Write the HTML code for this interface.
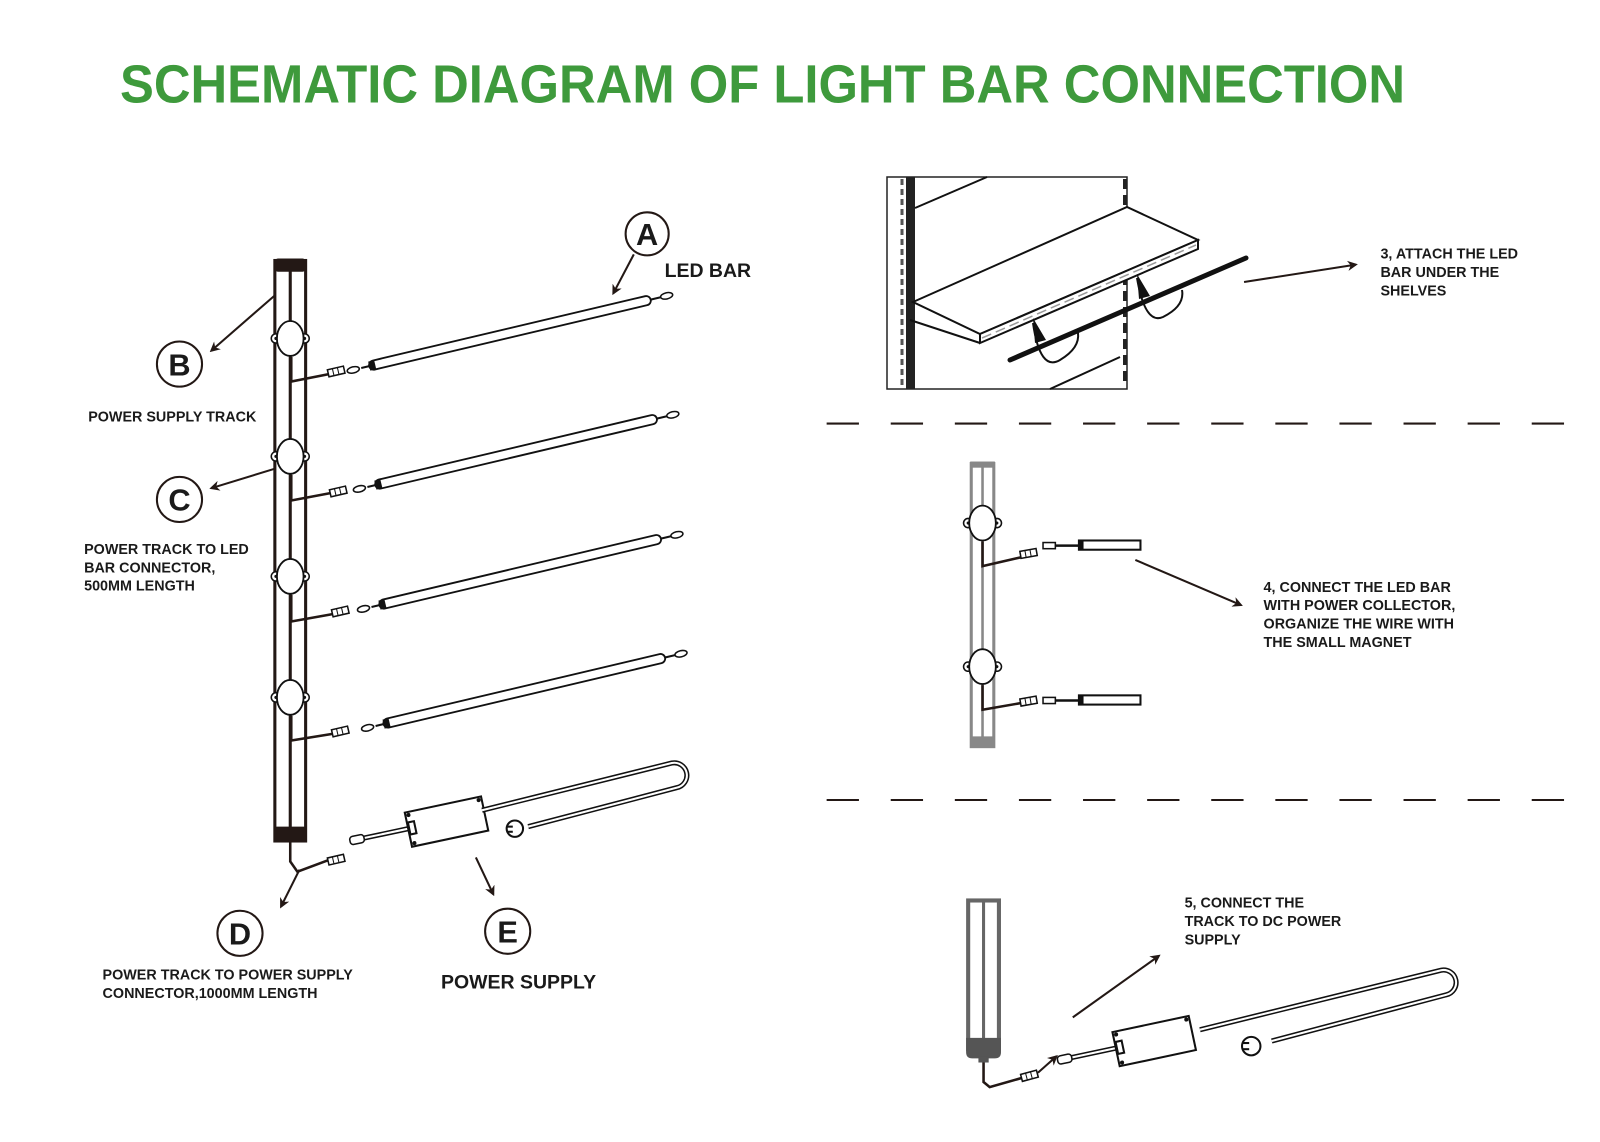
<!DOCTYPE html>
<html><head><meta charset="utf-8"><style>
html,body{margin:0;padding:0;background:#fff;}
svg{display:block;}
text{font-family:"Liberation Sans",sans-serif;font-weight:bold;fill:#1a1a1a;}
</style></head><body>
<svg width="1600" height="1142" viewBox="0 0 1600 1142" xmlns="http://www.w3.org/2000/svg">
<defs>
<marker id="ah" markerWidth="10" markerHeight="10" refX="8" refY="5" orient="auto" markerUnits="userSpaceOnUse" viewBox="0 0 10 10"><path d="M0,0 L10,5 L0,10 L3,5 z" fill="#231815"/></marker>
<g id="mag"><circle cx="-14" cy="0" r="4.5" fill="#fff" stroke="#111" stroke-width="1.5"/><circle cx="14" cy="0" r="4.5" fill="#fff" stroke="#111" stroke-width="1.5"/><circle cx="-14" cy="0" r="1.5" fill="#111"/><circle cx="14" cy="0" r="1.5" fill="#111"/><ellipse cx="0" cy="0" rx="13" ry="17" fill="#fff" stroke="#111" stroke-width="1.8"/></g>
<g id="bar">
<rect x="0" y="-4.5" width="282" height="9" rx="4.5" fill="#fff" stroke="#111" stroke-width="1.8"/>
<rect x="0" y="-4.5" width="6" height="9" fill="#111"/>
<line x1="282" y1="0" x2="292" y2="0" stroke="#111" stroke-width="2"/>
<ellipse cx="298" cy="0" rx="6" ry="3" fill="#fff" stroke="#111" stroke-width="1.5"/>
<line x1="0" y1="0" x2="-8" y2="0" stroke="#111" stroke-width="2"/>
<ellipse cx="-16" cy="0" rx="6" ry="3" fill="#fff" stroke="#111" stroke-width="1.5"/>
</g>
<g id="plug"><rect x="0" y="-3.5" width="16" height="7" fill="#fff" stroke="#111" stroke-width="1.5"/><line x1="5" y1="-3.5" x2="5" y2="3.5" stroke="#111"/><line x1="10" y1="-3.5" x2="10" y2="3.5" stroke="#111"/></g>
<g id="psu">
<line x1="-48" y1="0" x2="0" y2="0" stroke="#111" stroke-width="5"/><line x1="-48" y1="0" x2="0" y2="0" stroke="#fff" stroke-width="2"/>
<rect x="-58" y="-4" width="14" height="8" rx="3" fill="#fff" stroke="#111" stroke-width="1.5"/>
<rect x="0" y="-16" width="76" height="34" fill="#fff" stroke="#111" stroke-width="2"/>
<rect x="1" y="-6" width="6" height="12" fill="#fff" stroke="#111" stroke-width="2"/>
<circle cx="3" cy="-13" r="2" fill="#111"/><circle cx="3" cy="15" r="2" fill="#111"/><circle cx="73" cy="-13" r="2" fill="#111"/>
</g>
</defs>

<g transform="scale(1.0256)">
<text x="117" y="100" font-size="52" style="fill:#3e9a3c" textLength="1253" lengthAdjust="spacingAndGlyphs">SCHEMATIC DIAGRAM OF LIGHT BAR CONNECTION</text>

<!-- LEFT TRACK -->
<rect x="268" y="254" width="30" height="566" fill="#fff" stroke="#231815" stroke-width="3"/>
<line x1="283" y1="262" x2="283" y2="812" stroke="#231815" stroke-width="3"/>
<rect x="268" y="252" width="30" height="13" rx="3" fill="#231815"/>
<rect x="268" y="806" width="30" height="14" rx="2" fill="#231815"/>
<g stroke="#231815" stroke-width="2.5" fill="none">
<path d="M284,348 V372 L335,362"/><path d="M284,463 V488 L337,478"/><path d="M284,580 V606 L340,596"/><path d="M284,698 V722 L340,713"/>
<path d="M283,820 V840 L290,850 L322,838"/>
</g>
<use href="#mag" x="283" y="330"/><use href="#mag" x="283" y="445"/><use href="#mag" x="283" y="562"/><use href="#mag" x="283" y="680"/>
<use href="#plug" transform="translate(320,364) rotate(-13)"/>
<use href="#plug" transform="translate(322,481) rotate(-13)"/>
<use href="#plug" transform="translate(324,598) rotate(-13)"/>
<use href="#plug" transform="translate(324,715) rotate(-13)"/>
<use href="#plug" transform="translate(320,840) rotate(-13)"/>

<use href="#bar" transform="translate(360,357) rotate(-13.3)"/>
<use href="#bar" transform="translate(366,473) rotate(-13.3)"/>
<use href="#bar" transform="translate(370,590) rotate(-13.3)"/>
<use href="#bar" transform="translate(374,706) rotate(-13.3)"/>

<!-- power supply left -->
<use href="#psu" transform="translate(398,808) rotate(-12)"/>
<path d="M470,790 L655,744 A12,12 0 0 1 660,768 L515,806" fill="none" stroke="#111" stroke-width="5"/>
<path d="M470,790 L655,744 A12,12 0 0 1 660,768 L515,806" fill="none" stroke="#fff" stroke-width="2"/>
<circle cx="502" cy="808" r="8" fill="#fff" stroke="#111" stroke-width="2"/>
<line x1="494" y1="806" x2="500" y2="806" stroke="#111" stroke-width="2"/><line x1="494" y1="811" x2="500" y2="811" stroke="#111" stroke-width="2"/>

<!-- callouts left -->
<g fill="none" stroke="#231815" stroke-width="2">
<circle cx="631" cy="228" r="21"/><circle cx="175" cy="355" r="22"/><circle cx="175" cy="487" r="22"/><circle cx="234" cy="910" r="22"/><circle cx="495" cy="908" r="22"/>
<line x1="618" y1="248" x2="598" y2="286" marker-end="url(#ah)"/>
<line x1="268" y1="288" x2="206" y2="342" marker-end="url(#ah)"/>
<line x1="268" y1="457" x2="206" y2="476" marker-end="url(#ah)"/>
<line x1="292" y1="848" x2="274" y2="884" marker-end="url(#ah)"/>
<line x1="464" y1="836" x2="481" y2="872" marker-end="url(#ah)"/>
</g>
<g font-size="30" text-anchor="middle"><text x="631" y="239">A</text><text x="175" y="366">B</text><text x="175" y="498">C</text><text x="234" y="921">D</text><text x="495" y="919">E</text></g>
<text x="648" y="270" font-size="19">LED BAR</text>
<text x="86" y="411" font-size="14">POWER SUPPLY TRACK</text>
<text font-size="14"><tspan x="82" y="540">POWER TRACK TO LED</tspan><tspan x="82" y="558">BAR CONNECTOR,</tspan><tspan x="82" y="576">500MM LENGTH</tspan></text>
<text font-size="14"><tspan x="100" y="955">POWER TRACK TO POWER SUPPLY</tspan><tspan x="100" y="973">CONNECTOR,1000MM LENGTH</tspan></text>
<text x="430" y="964" font-size="19">POWER SUPPLY</text>

<line x1="1213" y1="275" x2="1322" y2="258" stroke="#231815" stroke-width="2" marker-end="url(#ah)"/>
<text font-size="14"><tspan x="1346" y="252">3, ATTACH THE LED</tspan><tspan x="1346" y="270">BAR UNDER THE</tspan><tspan x="1346" y="288">SHELVES</tspan></text>

<g stroke="#231815" stroke-width="2" stroke-dasharray="31.5 31"><line x1="806" y1="413" x2="1530" y2="413"/><line x1="806" y1="780" x2="1530" y2="780"/></g>

<!-- MIDDLE TRACK -->
<rect x="947" y="452" width="22" height="276" fill="#fff" stroke="#888" stroke-width="3"/>
<line x1="958" y1="452" x2="958" y2="728" stroke="#888" stroke-width="2.5"/>
<rect x="946" y="450" width="24" height="6" fill="#888"/><rect x="946" y="718" width="24" height="10" fill="#888"/>
<g stroke="#231815" stroke-width="2.5" fill="none"><path d="M958,528 V552 L1010,540"/><path d="M958,668 V692 L1010,683"/></g>
<use href="#mag" x="958" y="510"/><use href="#mag" x="958" y="650"/>
<use href="#plug" transform="translate(995,541) rotate(-10)"/><use href="#plug" transform="translate(995,685) rotate(-10)"/>
<g stroke="#111" fill="#fff">
<rect x="1017" y="529" width="12" height="6" stroke-width="1.5"/><line x1="1029" y1="532" x2="1052" y2="532" stroke-width="2.5"/><rect x="1052" y="527" width="60" height="9" stroke-width="2"/><rect x="1052" y="527" width="4" height="9" fill="#111"/>
<rect x="1017" y="680" width="12" height="6" stroke-width="1.5"/><line x1="1029" y1="683" x2="1052" y2="683" stroke-width="2.5"/><rect x="1052" y="678" width="60" height="9" stroke-width="2"/><rect x="1052" y="678" width="4" height="9" fill="#111"/>
</g>
<line x1="1107" y1="546" x2="1210" y2="590" stroke="#231815" stroke-width="2" marker-end="url(#ah)"/>
<text font-size="14"><tspan x="1232" y="577">4, CONNECT THE LED BAR</tspan><tspan x="1232" y="595">WITH POWER COLLECTOR,</tspan><tspan x="1232" y="613">ORGANIZE THE WIRE WITH</tspan><tspan x="1232" y="631">THE SMALL MAGNET</tspan></text>

<!-- BOTTOM TRACK -->
<rect x="944" y="878" width="30" height="145" fill="#fff" stroke="#666" stroke-width="4"/>
<line x1="959" y1="878" x2="959" y2="1020" stroke="#666" stroke-width="3"/>
<path d="M942,1012 H976 V1026 Q976,1032 970,1032 H948 Q942,1032 942,1026 Z" fill="#555"/>
<rect x="954" y="1030" width="10" height="6" fill="#555"/>
<path d="M959,1036 V1055 L965,1060 L1000,1050" fill="none" stroke="#231815" stroke-width="2.5"/>
<use href="#plug" transform="translate(996,1051) rotate(-15)"/>
<line x1="1012" y1="1046" x2="1030" y2="1030" stroke="#231815" stroke-width="2" marker-end="url(#ah)"/>
<line x1="1046" y1="992" x2="1130" y2="932" stroke="#231815" stroke-width="2" marker-end="url(#ah)"/>
<use href="#psu" transform="translate(1088,1022) rotate(-12)"/>
<path d="M1170,1004 L1405,946 A12,12 0 0 1 1410,970 L1240,1015" fill="none" stroke="#111" stroke-width="5"/>
<path d="M1170,1004 L1405,946 A12,12 0 0 1 1410,970 L1240,1015" fill="none" stroke="#fff" stroke-width="2"/>
<circle cx="1220" cy="1020" r="9" fill="#fff" stroke="#111" stroke-width="2"/>
<line x1="1211" y1="1017" x2="1218" y2="1017" stroke="#111" stroke-width="2"/><line x1="1211" y1="1023" x2="1218" y2="1023" stroke="#111" stroke-width="2"/>
<text font-size="14"><tspan x="1155" y="885">5, CONNECT THE</tspan><tspan x="1155" y="903">TRACK TO DC POWER</tspan><tspan x="1155" y="921">SUPPLY</tspan></text>
</g>

<!-- SHELF (true coords) -->
<rect x="887" y="177" width="240" height="212" fill="#fff" stroke="#222" stroke-width="1.5"/>
<rect x="906" y="177" width="9" height="212" fill="#222"/>
<line x1="902" y1="179" x2="902" y2="387" stroke="#555" stroke-width="3" stroke-dasharray="6 4"/>
<line x1="1125" y1="179" x2="1125" y2="387" stroke="#222" stroke-width="4" stroke-dasharray="10 6"/>
<g stroke="#111" stroke-width="2" fill="none">
<line x1="915" y1="208" x2="987" y2="177"/>
<line x1="1050" y1="389" x2="1120" y2="357"/>
<line x1="910" y1="320" x2="980" y2="343"/>
<path d="M913,302 L1127,207 L1198,240 L980,334 Z" fill="#fff"/>
<path d="M980,334 L1198,240 L1198,249 L980,343 Z" fill="#fff"/>
<path d="M1033,323 Q1040,372 1060,360 Q1080,348 1078,333"/>
<path d="M1137,278 Q1145,325 1163,317 Q1185,306 1182,290"/>
</g>
<line x1="982" y1="338" x2="1196" y2="245" stroke="#999" stroke-width="1.5" stroke-dasharray="10 5"/>
<line x1="1010" y1="360" x2="1246" y2="258" stroke="#111" stroke-width="5" stroke-linecap="round"/>
<path d="M1033,318 L1046,340 L1035,343 Z M1137,274 L1150,296 L1139,299 Z" fill="#111"/>
</svg>
</body></html>
